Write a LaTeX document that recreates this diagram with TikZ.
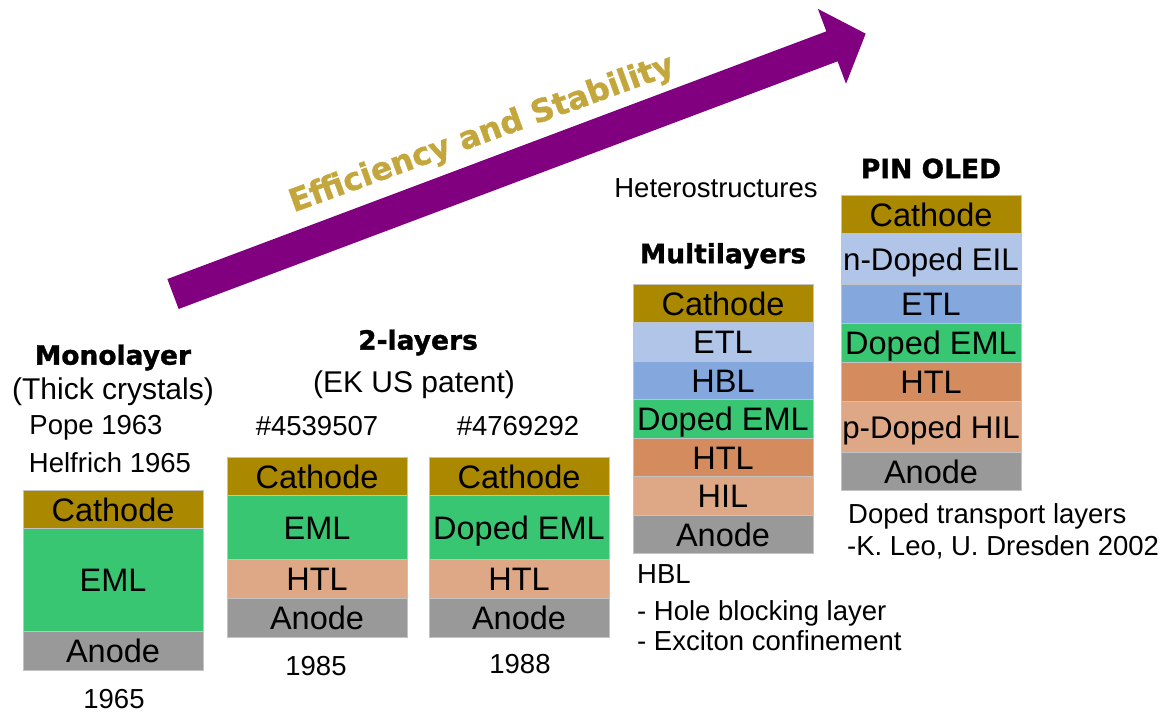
\documentclass[tikz,border=0pt]{standalone}
\usepackage{fontspec}
\setmainfont{Liberation Sans}
\newfontfamily\dejavu{DejaVu Sans}[BoldFeatures={FakeBold=1.2}]
\usepackage{tikz}
\usetikzlibrary{positioning}
\definecolor{cathodecol}{RGB}{170,136,0}
\definecolor{emlcol}{RGB}{57,198,115}
\definecolor{hilcol}{RGB}{222,168,134}
\definecolor{htlcol}{RGB}{212,140,95}
\definecolor{anodecol}{RGB}{153,153,153}
\definecolor{etlcol}{RGB}{176,197,232}
\definecolor{hblcol}{RGB}{132,168,221}
\definecolor{arrowcol}{RGB}{128,0,128}
\definecolor{goldcol}{RGB}{196,167,60}
\definecolor{edgecol}{RGB}{195,195,195}
\newcommand\layerfont{\fontsize{32.5}{37}\selectfont}
\newcommand\widefont{\fontsize{31.3}{36}\selectfont}
\newcommand\notefont{\fontsize{27.5}{32}\selectfont}
\newcommand\parenfont{\fontsize{30}{34}\selectfont}
\newcommand\titlefont{\dejavu\bfseries\fontsize{26.5}{31}\selectfont}
\newcommand\slogfont{\dejavu\bfseries\fontsize{31.5}{36}\selectfont}
\tikzstyle{layer} = [draw=edgecol, line width=.7pt, minimum width=180pt, minimum height=38.5pt,
  inner sep=0pt, outer sep=0pt, text height=23.5pt, text depth=0pt, font=\layerfont]
\tikzstyle{title} = [inner sep=0pt, text height=19.3pt, text depth=0pt, font=\titlefont]
\tikzstyle{note}  = [inner sep=0pt, text height=19.7pt, text depth=0pt, font=\notefont]
\tikzstyle{paren} = [inner sep=0pt, text height=21.5pt, text depth=0pt, font=\parenfont]

\begin{document}
\begin{tikzpicture}[x=1pt, y=-1pt]
  \useasboundingbox (0, 0) rectangle (1169, 713);
  % the big arrow
  \begin{scope}[shift={(173, 294)}, rotate=20.6]
    \fill[arrowcol] (0, -16) -- (704, -16) -- (704, -40) -- (740, 0) -- (704, 40)
      -- (704, 16) -- (0, 16) -- cycle;
  \end{scope}
  \draw (481, 132) node[inner sep=0pt, text height=23pt, text depth=0pt, font=\slogfont,
    text=goldcol, rotate=20] (slogan) {Efficiency and Stability};
  % monolayer
  \draw (113, 355) node[title] (monohead) {Monolayer};
  \draw (113, 389) node[paren] (monosub) {(Thick crystals)};
  \draw (96, 424.5) node[note] (pope) {Pope 1963};
  \draw (110, 462.5) node[note] (helfrich) {Helfrich 1965};
  \draw (23, 490) node[layer, anchor=north west, fill=cathodecol] (monocath) {Cathode};
  \node[layer, fill=emlcol, minimum height=103pt, below=0pt of monocath] (monoeml) {EML};
  \node[layer, fill=anodecol, below=0pt of monoeml] (monoanode) {Anode};
  \draw (114, 699) node[note] (monoyear) {1965};
  % two layers
  \draw (418, 340) node[title] (twohead) {2-layers};
  \draw (414, 382) node[paren] (twosub) {(EK US patent)};
  \draw (317, 426) node[note] (pata) {\#4539507};
  \draw (518, 426) node[note] (patb) {\#4769292};
  \draw (227, 457) node[layer, anchor=north west, fill=cathodecol] (acath) {Cathode};
  \node[layer, fill=emlcol, minimum height=64pt, below=0pt of acath] (aeml) {EML};
  \node[layer, fill=hilcol, minimum height=39pt, below=0pt of aeml] (ahtl) {HTL};
  \node[layer, fill=anodecol, below=0pt of ahtl] (aanode) {Anode};
  \draw (429, 457) node[layer, anchor=north west, fill=cathodecol] (bcath) {Cathode};
  \node[layer, fill=emlcol, minimum height=64pt, below=0pt of bcath] (beml) {Doped EML};
  \node[layer, fill=hilcol, minimum height=39pt, below=0pt of beml] (bhtl) {HTL};
  \node[layer, fill=anodecol, below=0pt of bhtl] (banode) {Anode};
  \draw (316, 666) node[note] (ayear) {1985};
  \draw (520, 664) node[note] (byear) {1988};
  % multilayers
  \draw (716, 188) node[note] (hetero) {Heterostructures};
  \draw (723, 253.5) node[title] (multihead) {Multilayers};
  \draw (633, 284) node[layer, anchor=north west, fill=cathodecol] (mcath) {Cathode};
  \node[layer, fill=etlcol, below=0pt of mcath] (metl) {ETL};
  \node[layer, fill=hblcol, below=0pt of metl] (mhbl) {HBL};
  \node[layer, fill=emlcol, below=0pt of mhbl] (meml) {Doped EML};
  \node[layer, fill=htlcol, below=0pt of meml] (mhtl) {HTL};
  \node[layer, fill=hilcol, below=0pt of mhtl] (mhil) {HIL};
  \node[layer, fill=anodecol, below=0pt of mhil] (manode) {Anode};
  \draw (637, 574) node[note, anchor=west] (hblnote) {HBL};
  \draw (637, 611) node[note, anchor=west] (hblnotea) {- Hole blocking layer};
  \draw (637, 641) node[note, anchor=west] (hblnoteb) {- Exciton confinement};
  % pin oled
  \draw (931, 168.5) node[title] (pinhead) {PIN OLED};
  \draw (841, 195) node[layer, anchor=north west, fill=cathodecol] (pcath) {Cathode};
  \node[layer, fill=etlcol, minimum height=51pt, font=\widefont, below=0pt of pcath] (peil) {n-Doped EIL};
  \node[layer, fill=hblcol, minimum height=39pt, below=0pt of peil] (petl) {ETL};
  \node[layer, fill=emlcol, minimum height=39pt, below=0pt of petl] (peml) {Doped EML};
  \node[layer, fill=htlcol, below=0pt of peml] (phtl) {HTL};
  \node[layer, fill=hilcol, minimum height=51pt, font=\widefont, below=0pt of phtl] (phil) {p-Doped HIL};
  \node[layer, fill=anodecol, below=0pt of phil] (panode) {Anode};
  \draw (848, 514) node[note, anchor=west] (leoa) {Doped transport layers};
  \draw (847, 546) node[note, anchor=west] (leob) {-K. Leo, U. Dresden 2002};
\end{tikzpicture}
\end{document}
